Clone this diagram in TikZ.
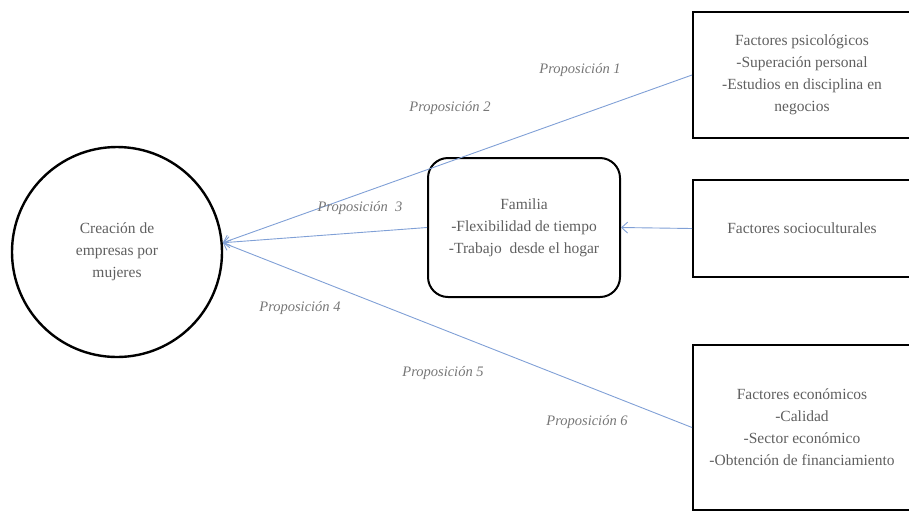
\documentclass[tikz,border=0pt]{standalone}
\usepackage{fontspec}
\setmainfont{LiberationSerif}[Extension=.ttf, UprightFont=*-Regular, ItalicFont=*-Italic, BoldFont=*-Bold]
\usetikzlibrary{arrows.meta}

\definecolor{linkblue}{RGB}{128,160,214}
\definecolor{txtgray}{RGB}{95,95,95}

\begin{document}
\begin{tikzpicture}[x=1pt, y=-1pt,
  txt/.style={text=txtgray, font=\fontsize{15.5}{22}\selectfont, align=center},
  prop/.style={text=txtgray!85, font=\fontsize{14.5}{17}\selectfont\itshape},
  factor/.style={txt, draw=black, line width=2pt, minimum width=218pt, inner sep=0pt},
  link/.style={draw=linkblue, line width=0.9pt, -{Straight Barb[length=6pt,width=11pt]}}]
  \useasboundingbox (0,0) rectangle (909,512);

  \node[txt, circle, draw=black, line width=2.4pt, minimum size=210pt, inner sep=0pt] (C) at (117,252) {Creación de\\empresas por\\mujeres};
  \node[txt, draw=black, line width=2pt, rounded corners=20pt, minimum width=192pt, minimum height=139pt] (F) at (524,227.5) {Familia\\-Flexibilidad de tiempo\\-Trabajo~ desde el hogar};

  \node[factor, minimum height=126pt] (P) at (802,75) {Factores psicológicos\\-Superación personal\\-Estudios en disciplina en\\negocios};
  \node[factor, minimum height=97pt] (S) at (802,228.5) {Factores socioculturales};
  \node[factor, minimum height=165pt] (E) at (802,427.5) {Factores económicos\\-Calidad\\-Sector económico\\-Obtención de financiamiento};

  \draw[link] (P.west) to (C.5);
  \draw[link] (F.west) to (C.5);
  \draw[link] (E.west) to (C.5);
  \draw[link] (S.west) to (F.east);

  \node[prop] (p1) at (580,70) {Proposición 1};
  \node[prop] (p2) at (450,108) {Proposición 2};
  \node[prop] (p3) at (360,208) {Proposición~ 3};
  \node[prop] (p4) at (300,308) {Proposición 4};
  \node[prop] (p5) at (443,373) {Proposición 5};
  \node[prop] (p6) at (587,422) {Proposición 6};
\end{tikzpicture}
\end{document}
